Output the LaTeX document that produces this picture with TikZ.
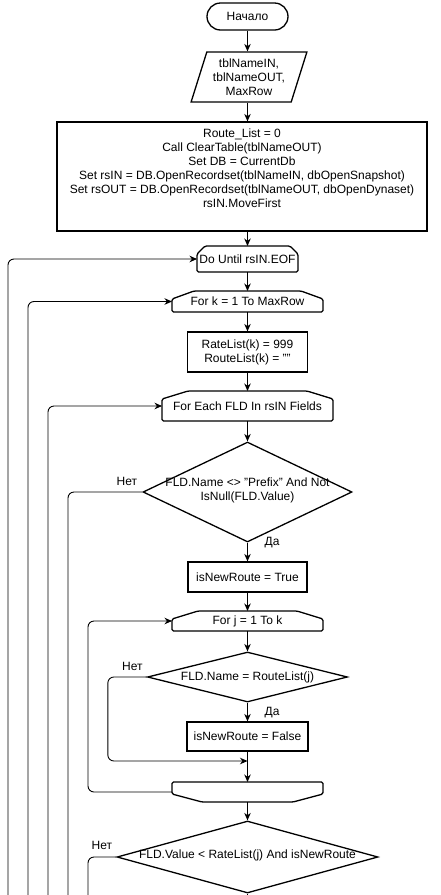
\documentclass[tikz,border=0pt]{standalone}
\usepackage{fontspec}
\setmainfont{Liberation Sans}
\usetikzlibrary{positioning,arrows.meta,shapes.geometric}

\begin{document}
\begin{tikzpicture}[x=1pt, y=-1pt,
    font=\fontsize{12}{14}\selectfont,
    TM/.style={rectangle, draw, line width=1.3pt, rounded corners=13.5pt,
      minimum width=81pt, minimum height=27pt, inner sep=0pt},
    IO/.style={trapezium, trapezium left angle=70, trapezium right angle=110,
      trapezium stretches=true, draw, line width=1.3pt, align=center,
      minimum width=116pt, minimum height=50pt, inner sep=0pt},
    PB/.style={rectangle, draw, line width=1.3pt, align=center, inner sep=0pt},
    LP/.style={rectangle, inner sep=0pt, outer sep=0pt},
    DC/.style={diamond, draw, line width=1.3pt, inner sep=0pt},
    TX/.style={align=center, inner sep=0pt},
    LB/.style={inner sep=0pt},
    sh/.style={line width=1.3pt, rounded corners=1.5pt},
    arr/.style={-{Stealth[length=7.5pt,width=6.5pt]}, line width=0.9pt, rounded corners=6pt},
    ln/.style={line width=0.9pt, rounded corners=6pt}
  ]
  \useasboundingbox (0,0) rectangle (440,895);

  %% Start, input, init
  \node[TM] (st) at (247.5,16.5) {Начало};
  \node[IO] (in) at (249,77) {tblNameIN,\\tblNameOUT,\\MaxRow};
  \node[PB, minimum width=370pt, minimum height=109pt] (ini) at (242,176.5) {};
  \node[TX] (init) at (242,168)
    {Route\_List = 0\\Call ClearTable(tblNameOUT)\\Set DB = CurrentDb\\
     Set rsIN = DB.OpenRecordset(tblNameIN, dbOpenSnapshot)\\
     Set rsOUT = DB.OpenRecordset(tblNameOUT, dbOpenDynaset)\\rsIN.MoveFirst};

  %% Outer loops
  \node[LP, minimum width=101pt, minimum height=26pt] (du) at (247.5,259) {Do Until rsIN.EOF};
  \node[LP, minimum width=151pt, minimum height=21pt] (fk) at (247.5,301.5) {For k = 1 To MaxRow};
  \node[PB, minimum width=120pt, minimum height=40pt] (rl) at (247.5,352)
    {RateList(k) = 999\\RouteList(k) = ""};
  \node[LP, minimum width=171pt, minimum height=30pt] (fe) at (247.5,406) {For Each FLD In rsIN Fields};

  %% First check
  \node[DC, minimum width=209pt, minimum height=100pt] (d1) at (247.5,492) {};
  \node[TX] (d1t) at (247.5,490.5) {FLD.Name <> "Prefix" And Not\\IsNull(FLD.Value)};
  \node[PB, minimum width=119pt, minimum height=30pt] (nt) at (247.5,577) {isNewRoute = True};

  %% Inner loop
  \node[LP, minimum width=151pt, minimum height=20pt] (fj) at (247.5,621) {For j = 1 To k};
  \node[DC, minimum width=200pt, minimum height=50pt] (d2) at (247.5,677) {};
  \node[TX] (d2t) at (d2) {FLD.Name = RouteList(j)};
  \node[PB, minimum width=121pt, minimum height=29pt] (nf) at (247.5,736.5) {isNewRoute = False};
  \node[LP, minimum width=151pt, minimum height=20pt] (le) at (247.5,792) {};

  %% Second check
  \node[DC, minimum width=261pt, minimum height=72pt] (d3) at (247.5,857) {};
  \node[TX] (d3t) at (247.5,855) {FLD.Value < RateList(j) And isNewRoute};

  %% Loop limit outlines
  \foreach \n/\c in {du/8, fk/22, fe/26, fj/26}
    \draw[sh] ([xshift=\c pt]\n.north west) -- ([xshift=-\c pt]\n.north east)
      -- ([yshift=-8pt]\n.north east) -- (\n.south east) -- (\n.south west)
      -- ([yshift=-8pt]\n.north west) -- cycle;
  \draw[sh] (le.north west) -- (le.north east) -- ([yshift=8pt]le.south east)
    -- ([xshift=-30pt]le.south east) -- ([xshift=30pt]le.south west)
    -- ([yshift=8pt]le.south west) -- cycle;

  %% Labels
  \node[LB, above left=6pt and 5pt of d1.west] (n1) {Нет};
  \node[LB, right=17pt of d1.south] (y1) {Да};
  \node[LB, above left=6pt and 4pt of d2.west] (n2) {Нет};
  \node[LB, below right=4pt and 17pt of d2.south] (y2) {Да};
  \node[LB, above left=7pt and 4pt of d3.west] (n3) {Нет};

  %% Free ends
  \foreach \i/\x in {1/8, 2/28, 3/48, 4/68, 5/88}
    \coordinate (b\i) at (\x,895);
  \coordinate (b6) at (247.5,895);
  \coordinate (mj) at (247.5,761);

  %% Arrows
  \draw[arr] (st) -- (st |- in.north);
  \draw[arr] (st |- in.south) -- (st |- ini.north);
  \draw[arr] (st |- ini.south) -- (du);
  \draw[arr] (du) -- (fk);
  \draw[arr] (fk) -- (rl);
  \draw[arr] (rl) -- (fe);
  \draw[arr] (fe) -- (d1);
  \draw[arr] (d1) -- (nt);
  \draw[arr] (nt) -- (fj);
  \draw[arr] (fj) -- (d2);
  \draw[arr] (d2) -- (nf);
  \draw[arr] (nf) -- (le);
  \draw[arr] (d2.west) -- ++(-39,0) |- (mj);
  \draw[arr] (le) -- (d3);
  \draw[ln] (d3) -- (b6);

  %% Loop back lines
  \draw[arr] (b1) |- (du.west);
  \draw[arr] (b2) |- (fk.west);
  \draw[arr] (b3) |- (fe.west);
  \draw[ln] (d1.west) -| (b4);
  \draw[arr] (le.west) -- ++(-84,0) |- (fj.west);
  \draw[ln] (d3.west) -| (b5);
\end{tikzpicture}
\end{document}
